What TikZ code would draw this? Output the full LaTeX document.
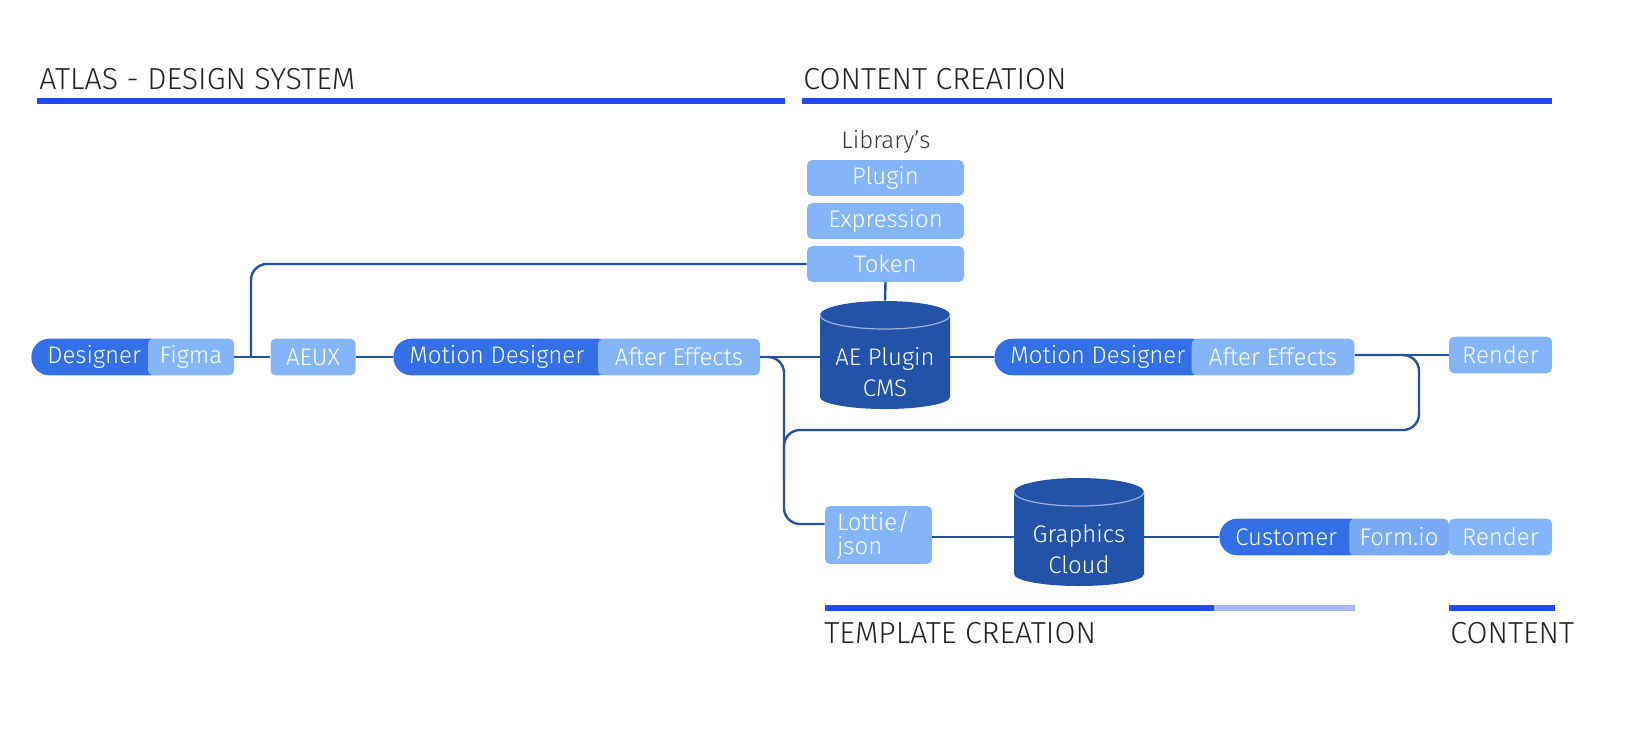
\documentclass[tikz,border=0pt]{standalone}
\usepackage{fontspec}
\setmainfont{Fira Sans Light}
\usetikzlibrary{positioning,calc}
\definecolor{atlasblue}{RGB}{31,74,245}
\definecolor{atlaspale}{RGB}{169,185,249}
\definecolor{roleblue}{RGB}{51,112,232}
\definecolor{toolblue}{RGB}{133,181,249}
\definecolor{formblue}{RGB}{122,170,245}
\definecolor{storeblue}{RGB}{35,83,168}
\definecolor{linkblue}{RGB}{36,81,166}
\definecolor{inkgrey}{RGB}{34,34,34}
\newcommand\storelabel[2]{\raisebox{-13pt}[0pt][0pt]{\begin{tabular}{@{}c@{}}#1\\#2\end{tabular}}}

\begin{document}
\begin{tikzpicture}[x=0.5pt, y=-0.5pt, font=\fontsize{12}{14.5}\selectfont,
    role/.style={rectangle, fill=roleblue, rounded corners=9pt, minimum height=18.3pt,
        inner xsep=8pt, inner ysep=0pt, align=flush left, text=white, anchor=west},
    tool/.style={rectangle, fill=toolblue, rounded corners=2.5pt, minimum height=18.3pt,
        inner sep=0pt, text=white},
    store/.style={rectangle, minimum width=65pt, minimum height=54pt, inner sep=0pt,
        text=white, font=\fontsize{12}{15.2}\selectfont, path picture={
        \fill[storeblue] ([yshift=-7pt]path picture bounding box.north west)
            arc[start angle=180, end angle=0, x radius=32.5pt, y radius=7pt]
            -- ([yshift=6pt]path picture bounding box.south east)
            arc[start angle=0, end angle=-180, x radius=32.5pt, y radius=6pt] -- cycle;
        \draw[white!55!storeblue, line width=0.6pt]
            ([yshift=-7pt]path picture bounding box.north west)
            arc[start angle=180, end angle=360, x radius=32.5pt, y radius=7pt];}},
    head/.style={anchor=base west, inner sep=0pt, text=inkgrey, font=\fontsize{15.2}{18}\selectfont},
    link/.style={draw=linkblue, line width=1.2pt, rounded corners=8pt}
]
    \useasboundingbox (0,0) rectangle (1644,752);

    % Section headers
    \node[head] (atlas) at (39,89) {ATLAS - DESIGN SYSTEM};
    \node[head] (creation) at (803,89) {CONTENT CREATION};
    \fill[atlasblue] (37,97.5) rectangle (785,103.8);
    \fill[atlasblue] (802,97.5) rectangle (1552,103.8);

    % Library's
    \node[anchor=base, inner sep=0pt, text=inkgrey!90] (libs) at (886,148) {Library’s};
    \node[tool, minimum width=78.5pt, minimum height=17.8pt] (plugin) at (885.5,178) {Plugin};
    \node[tool, minimum width=78.5pt, minimum height=17.8pt] (expression) at (885.5,221) {Expression};
    \node[tool, minimum width=78.5pt, minimum height=17.8pt] (token) at (885.5,264) {Token};

    % Template row
    \node[role, text width=52.5pt] (designer) at (31,357) {Designer};
    \node[tool, minimum width=43pt] (figma) at (191,357) {Figma};
    \node[tool, minimum width=42.5pt] (aeux) at (313,357) {AEUX};
    \node[role, text width=95.5pt] (motion1) at (393,357) {Motion Designer};
    \node[tool, minimum width=81pt] (effects1) at (679,357) {After Effects};
    \node[store] (cms) at (885,355) {\storelabel{AE Plugin}{CMS}};
    \node[role, text width=92pt] (motion2) at (994,357) {Motion Designer};
    \node[tool, minimum width=81.3pt] (effects2) at (1273,357) {After Effects};
    \node[tool, minimum width=51.5pt] (render1) at (1500.5,355) {Render};

    % Content row
    \node[tool, minimum width=53.5pt, minimum height=28.8pt, text width=41.5pt,
        inner xsep=6pt, align=flush left, font=\fontsize{12}{12}\selectfont] (lottie) at (878.5,535) {Lottie/\\json};
    \node[store] (cloud) at (1079,532) {\storelabel{Graphics}{Cloud}};
    \node[role, text width=58.5pt] (customer) at (1219,537) {Customer};
    \node[tool, fill=formblue, minimum width=49.75pt] (formio) at (1399,537) {Form.io};
    \node[tool, minimum width=51.5pt] (render2) at (1500.5,537) {Render};

    % Bottom headers
    \fill[atlasblue] (825,605) rectangle (1214,611);
    \fill[atlaspale] (1214,605) rectangle (1355,611);
    \fill[atlasblue] (1449,605) rectangle (1555,611);
    \node[head] (template) at (824,643) {TEMPLATE CREATION};
    \node[head] (content) at (1450,643) {CONTENT};

    % Links
    \coordinate (tap) at (251,357);
    \coordinate (drop) at (784,524);
    \coordinate (loop) at (1419,430);
    \coordinate (merge) at (784,480);
    \draw[link] (figma.east) -- (aeux.west);
    \draw[link] (tap) |- (token.west);
    \draw[link] (aeux.east) -- (motion1.west);
    \draw[link] (effects1.east) -- (effects1.east -| cms.west);
    \draw[link] (effects1.east) -| (drop) -- (drop -| lottie.west);
    \draw[link] (token.south) -- (cms.north);
    \draw[link] (cms.east |- motion2.west) -- (motion2.west);
    \draw[link] (effects2.east |- render1.west) -- (render1.west);
    \draw[link] (effects2.east |- render1.west) -| (loop) -| (merge);
    \draw[link] (lottie.east |- customer.west) -- (cloud.west |- customer.west);
    \draw[link] (cloud.east |- customer.west) -- (customer.west);
\end{tikzpicture}
\end{document}
